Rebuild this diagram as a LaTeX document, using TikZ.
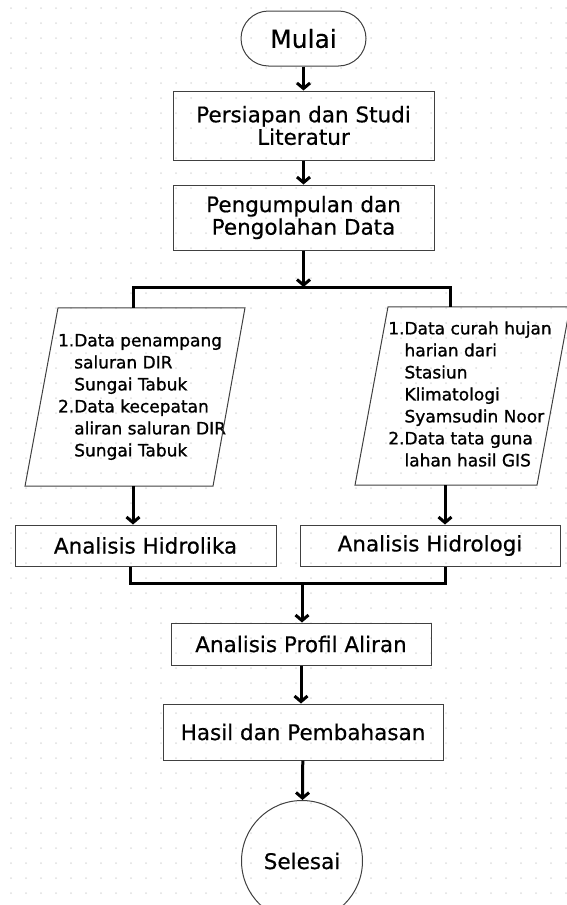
\documentclass[tikz,border=0pt]{standalone}
\usepackage{fontspec}
\setmainfont{DejaVu Sans}[FakeBold=0.5]
\newfontfamily\listfont{DejaVu Sans}[FakeBold=1.1]
\usetikzlibrary{arrows.meta}

\tikzset{
  proc/.style={draw=black!75, line width=1pt, inner sep=0pt, align=center,
    font=\fontsize{21.5}{22.5}\selectfont},
  term/.style={proc, rounded corners=27.5pt},
  endc/.style={proc, circle, minimum size=121pt},
  datatext/.style={inner sep=0pt, minimum height=178pt,
    font=\listfont\fontsize{17}{22}\selectfont},
  edge/.style={draw=black!75, line width=1pt},
  wire/.style={line width=3pt},
  flow/.style={line width=3pt, -{Straight Barb[length=5.5pt,width=13pt]}}
}

\begin{document}
\begin{tikzpicture}[x=1pt, y=-1pt]
    \useasboundingbox (0,0) rectangle (567,905);
    \foreach \i in {0,...,37}{
      \foreach \j in {0,...,60}{
        \fill[black!13] (11+\i*15,8+\j*15) circle (1pt);
      }
    }

    \node[term, minimum width=125pt, minimum height=55pt] (mulai) at (303.5,38.5) {\fontsize{25}{25}\selectfont Mulai};
    \node[proc, minimum width=261pt, minimum height=69pt] (studi) at (303.5,125.5) {Persiapan dan Studi\\Literatur};
    \node[proc, minimum width=261pt, minimum height=65pt] (olah) at (303.5,217.5) {Pengumpulan dan\\Pengolahan Data};

    \node[datatext] (dataL) at (142,397) {\begin{tabular}{@{}r@{}l@{}}
      1.&Data penampang\\
        &saluran DIR\\
        &Sungai Tabuk\\
      2.&Data kecepatan\\
        &aliran saluran DIR\\
        &Sungai Tabuk
    \end{tabular}};
    \node[datatext] (dataR) at (470,396) {\begin{tabular}{@{}r@{}l@{}}
      1.&Data curah hujan\\
        &harian dari\\
        &Stasiun\\
        &Klimatologi\\
        &Syamsudin Noor\\
      2.&Data tata guna\\
        &lahan hasil GIS
    \end{tabular}};
    \draw[edge] ([xshift=-84pt]dataL.north) -- ([xshift=103pt]dataL.north)
      -- ([xshift=71pt]dataL.south) -- ([xshift=-117pt]dataL.south) -- cycle;
    \draw[edge] ([xshift=-82pt]dataR.north) -- ([xshift=100pt]dataR.north)
      -- ([xshift=67pt]dataR.south) -- ([xshift=-115pt]dataR.south) -- cycle;

    \node[proc, minimum width=261pt, minimum height=41pt] (hidrolika) at (145.5,545.5) {Analisis Hidrolika};
    \node[proc, minimum width=260pt, minimum height=41pt] (hidrologi) at (430,545.5) {Analisis Hidrologi};
    \node[proc, minimum width=260pt, minimum height=42pt] (profil) at (301,644) {Analisis Profil Aliran};
    \node[proc, minimum width=280pt, minimum height=56pt] (hasil) at (303,732) {Hasil dan Pembahasan};
    \node[endc] (selesai) at (302,861) {Selesai};

    \coordinate (brL) at (133,287);
    \coordinate (brR) at (450,287);
    \coordinate (jnL) at (130,583);
    \coordinate (jnR) at (445,583);
    \coordinate (jnM) at (302,583);

    \draw[flow] (mulai) -- (studi);
    \draw[flow] (studi) -- (olah);
    \draw[flow] (olah.south) -- (olah.south |- brL);
    \draw[wire] (brL |- dataL.north) -- (brL) -- (brR) -- (brR |- dataR.north);
    \draw[flow] (brL |- dataL.south) -- (brL |- hidrolika.north);
    \draw[flow] (jnR |- dataR.south) -- (jnR |- hidrologi.north);
    \draw[wire] (jnL |- hidrolika.south) -- (jnL) -- (jnR) -- (jnR |- hidrologi.south);
    \draw[flow] (jnM) -- (jnM |- profil.north);
    \draw[flow] (profil.south) -- (profil.south |- hasil.north);
    \draw[flow] (hasil) -- (selesai);
  \end{tikzpicture}
\end{document}
